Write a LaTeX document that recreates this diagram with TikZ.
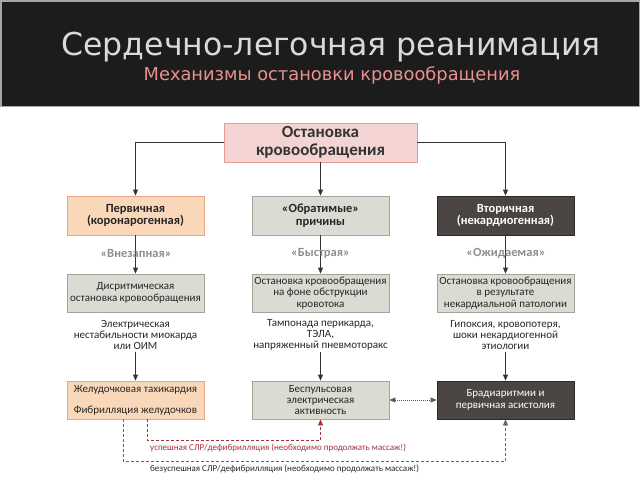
\documentclass[tikz,border=0pt]{standalone}
\usepackage{fontspec}
\setmainfont{Carlito}
\newfontfamily\titlefont{DejaVu Sans}
\usetikzlibrary{arrows.meta}
\definecolor{barbg}{HTML}{1C1C1C}
\definecolor{titlegray}{HTML}{DADADA}
\definecolor{subpink}{HTML}{E8928F}
\definecolor{pinkfill}{HTML}{F4D3D3}
\definecolor{pinkline}{HTML}{E89A95}
\definecolor{peachfill}{HTML}{F9D8BA}
\definecolor{peachline}{HTML}{E9A585}
\definecolor{sagefill}{HTML}{D9DCD2}
\definecolor{sageline}{HTML}{A2A59A}
\definecolor{darkfill}{HTML}{4A4543}
\definecolor{darkline}{HTML}{2C2A29}
\definecolor{tagcol}{HTML}{8E8E8E}
\definecolor{linecol}{HTML}{333333}
\definecolor{okred}{HTML}{A3303A}
\begin{document}
\begin{tikzpicture}[x=1pt,y=-1pt,
    box/.style={draw,line width=.8pt,minimum width=137pt,minimum height=38pt,inner sep=1pt,align=center,
      font=\fontsize{11}{11.3}\selectfont,text=black!85},
    headbox/.style={box,font=\bfseries\fontsize{12.5}{12.5}\selectfont},
    pinkbox/.style={fill=pinkfill,draw=pinkline},
    peachbox/.style={fill=peachfill,draw=peachline},
    sagebox/.style={fill=sagefill,draw=sageline},
    darkbox/.style={fill=darkfill,draw=darkline,text=white},
    tag/.style={font=\bfseries\fontsize{12.5}{12.5}\selectfont,text=tagcol,inner sep=1pt},
    note/.style={align=center,font=\fontsize{11}{10.8}\selectfont,text=black!85,inner sep=2pt},
    link/.style={draw=linecol,line width=.8pt,-{Triangle[width=5pt,length=6pt]}},
    footnote/.style={anchor=west,font=\fontsize{9}{10}\selectfont,inner sep=0pt}]
  \useasboundingbox (0,0) rectangle (640,480);
  \fill[barbg] (0,0) rectangle (640,107);
  \draw[gray!70,line width=1.5pt] (.75,.75) rectangle (639.25,106.5);
  \node[anchor=base,text=titlegray,font=\titlefont\fontsize{31.5}{32}\selectfont] (title) at (331,55) {Сердечно-легочная реанимация};
  \node[anchor=base,text=subpink,font=\titlefont\fontsize{17.8}{19}\selectfont] (subtitle) at (332,80) {Механизмы остановки кровообращения};

  \node[box,pinkbox,minimum width=193pt,minimum height=39pt,font=\bfseries\fontsize{17}{18}\selectfont,text=black!80] (arrest) at (320.5,142.5) {Остановка\\кровообращения};

  \node[headbox,peachbox,minimum height=39pt] (primary) at (135.5,215.5) {Первичная\\(коронарогенная)};
  \node[headbox,sagebox,minimum height=39pt] (reversible) at (320.5,215.5) {«Обратимые»\\причины};
  \node[headbox,darkbox,minimum height=39pt] (secondary) at (505.5,215.5) {Вторичная\\(некардиогенная)};

  \node[box,sagebox] (dysrhythm) at (135.5,293) {Дисритмическая\\остановка кровообращения};
  \node[box,sagebox] (obstruct) at (320.5,293) {Остановка кровообращения\\на фоне обструкции\\кровотока};
  \node[box,sagebox] (noncard) at (505.5,293) {Остановка кровообращения\\в результате\\некардиальной патологии};

  \node[note] (cause1) at (135.5,335) {Электрическая\\нестабильности миокарда\\или ОИМ};
  \node[note] (cause2) at (320.5,335) {Тампонада перикарда,\\ТЭЛА,\\напряженный пневмоторакс};
  \node[note] (cause3) at (505.5,335) {Гипоксия, кровопотеря,\\шоки некардиогенной\\этиологии};

  \node[box,peachbox,align=left,font=\fontsize{11}{21}\selectfont] (vtvf) at (135.5,400) {Желудочковая тахикардия\\Фибрилляция желудочков};
  \node[box,sagebox] (pea) at (320.5,400) {Беспульсовая\\электрическая\\активность};
  \node[box,darkbox] (brady) at (505.5,400) {Брадиаритмии и\\первичная асистолия};

  \draw[link] (arrest.west) -| (primary.north);
  \draw[link] (arrest.south) -- (reversible.north);
  \draw[link] (arrest.east) -| (secondary.north);
  \draw[link] (primary.south) -- (dysrhythm.north);
  \draw[link] (reversible.south) -- (obstruct.north);
  \draw[link] (secondary.south) -- (noncard.north);
  \draw[link] (cause1.south) -- (vtvf.north);
  \draw[link] (cause2.south) -- (pea.north);
  \draw[link] (cause3.south) -- (brady.north);

  \node[tag] (sudden) at (136,253) {«Внезапная»};
  \node[tag] (fast) at (320.5,253) {«Быстрая»};
  \node[tag] (expected) at (506,253) {«Ожидаемая»};

  \draw[draw=black!65,line width=.8pt,dash pattern=on 1pt off 1pt,
    {Triangle[width=5pt,length=6pt]}-{Triangle[width=5pt,length=6pt]}] (pea.east) -- (brady.west);
  \draw[link,draw=okred,dash pattern=on 3pt off 2pt,-{Triangle[width=5pt,length=6pt,fill=okred]}]
    ([xshift=11.5pt]vtvf.south) -- ++(0,21) -| (pea.south);
  \draw[link,draw=black!60,dash pattern=on 3pt off 2pt]
    ([xshift=-12.5pt]vtvf.south) -- ++(0,42) -| (brady.south);

  \node[footnote,text=okred] (success) at (150,448) {успешная СЛР/дефибрилляция (необходимо продолжать массаж!)};
  \node[footnote,text=black!85] (failure) at (150,469) {безуспешная СЛР/дефибрилляция (необходимо продолжать массаж!)};
\end{tikzpicture}
\end{document}
